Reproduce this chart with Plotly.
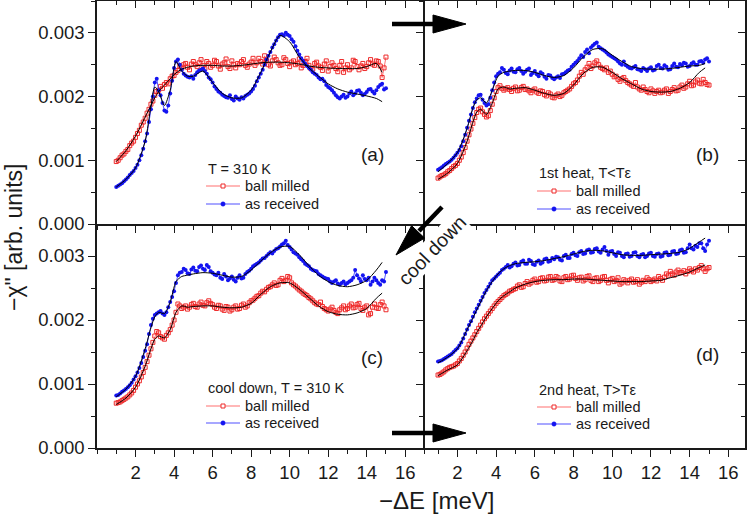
import numpy as np
import plotly.graph_objects as go

W, H = 747, 517

# measured energies (meV)
energy = [1.0, 1.1, 1.2, 1.3, 1.4, 1.5, 1.6, 1.7, 1.8, 1.9,
          2.0, 2.1, 2.2, 2.3, 2.4, 2.5, 2.6, 2.7, 2.8, 2.9,
          3.0, 3.1, 3.2, 3.3, 3.4, 3.5, 3.6, 3.7, 3.8, 3.9,
          4.0, 4.1, 4.2, 4.3, 4.4, 4.5, 4.6, 4.7, 4.8, 4.9,
          5.0, 5.1, 5.2, 5.3, 5.4, 5.5, 5.6, 5.7, 5.8, 5.9,
          6.0, 6.1, 6.2, 6.3, 6.4, 6.5, 6.6, 6.7, 6.8, 6.9,
          7.0, 7.1, 7.2, 7.3, 7.4, 7.5, 7.6, 7.7, 7.8, 7.9,
          8.0, 8.1, 8.2, 8.3, 8.4, 8.5, 8.6, 8.7, 8.8, 8.9,
          9.0, 9.1, 9.2, 9.3, 9.4, 9.5, 9.6, 9.7, 9.8, 9.9,
          10.0, 10.1, 10.2, 10.3, 10.4, 10.5, 10.6, 10.7, 10.8, 10.9,
          11.0, 11.1, 11.2, 11.3, 11.4, 11.5, 11.6, 11.7, 11.8, 11.9,
          12.0, 12.1, 12.2, 12.3, 12.4, 12.5, 12.6, 12.7, 12.8, 12.9,
          13.0, 13.1, 13.2, 13.3, 13.4, 13.5, 13.6, 13.7, 13.8, 13.9,
          14.0, 14.1, 14.2, 14.3, 14.4, 14.5, 14.6, 14.7, 14.8, 14.9, 15.0]
fit_energy = [1.0, 1.5, 2.0, 2.5, 2.8, 3.0, 3.2, 3.5, 3.8, 4.1, 4.4, 4.7, 5.0,
              5.5, 6.0, 6.5, 7.0, 7.5, 8.0, 8.5, 9.0, 9.5, 10.0, 10.5, 11.0,
              11.5, 12.0, 12.5, 13.0, 13.5, 14.0, 14.5, 14.8]

# -chi'' values in units of 1e-3
a_milled = [0.98, 1.00, 1.04, 1.08, 1.10, 1.14, 1.17, 1.23, 1.27, 1.30,
            1.36, 1.42, 1.47, 1.55, 1.60, 1.66, 1.74, 1.80, 1.88, 1.93,
            2.02, 2.08, 2.10, 2.16, 2.13, 2.19, 2.22, 2.20, 2.28, 2.32,
            2.33, 2.38, 2.41, 2.48, 2.45, 2.50, 2.52, 2.46, 2.42, 2.51,
            2.55, 2.50, 2.47, 2.53, 2.58, 2.49, 2.44, 2.55, 2.52, 2.46,
            2.49, 2.57, 2.55, 2.48, 2.43, 2.51, 2.53, 2.59, 2.47, 2.44,
            2.56, 2.50, 2.45, 2.52, 2.50, 2.55, 2.58, 2.49, 2.46, 2.51,
            2.54, 2.60, 2.49, 2.53, 2.60, 2.55, 2.51, 2.64, 2.57, 2.50,
            2.48, 2.56, 2.62, 2.58, 2.53, 2.49, 2.50, 2.61, 2.58, 2.52,
            2.47, 2.54, 2.56, 2.50, 2.52, 2.59, 2.45, 2.49, 2.55, 2.60,
            2.49, 2.44, 2.43, 2.52, 2.54, 2.48, 2.46, 2.41, 2.51, 2.56,
            2.40, 2.47, 2.53, 2.49, 2.44, 2.39, 2.49, 2.55, 2.38, 2.45,
            2.50, 2.42, 2.45, 2.57, 2.55, 2.47, 2.42, 2.48, 2.52, 2.44,
            2.47, 2.53, 2.58, 2.51, 2.49, 2.56, 2.55, 2.48, 2.30, 2.45, 2.62]
a_received = [0.58, 0.60, 0.62, 0.64, 0.67, 0.70, 0.73, 0.77, 0.80, 0.83,
              0.88, 0.93, 1.00, 1.08, 1.18, 1.30, 1.42, 1.60, 1.80, 2.00,
              2.22, 2.28, 2.10, 2.02, 1.90, 1.78, 1.76, 1.86, 2.05, 2.25,
              2.45, 2.55, 2.58, 2.50, 2.42, 2.36, 2.33, 2.31, 2.30, 2.32,
              2.28, 2.34, 2.38, 2.41, 2.42, 2.44, 2.40, 2.36, 2.30, 2.27,
              2.22, 2.16, 2.12, 2.08, 2.06, 2.03, 2.01, 1.99, 1.98, 2.02,
              1.96, 1.94, 2.00, 1.97, 1.95, 1.99, 1.97, 2.01, 2.03, 2.05,
              2.08, 2.12, 2.17, 2.24, 2.30, 2.36, 2.42, 2.50, 2.58, 2.64,
              2.70, 2.77, 2.82, 2.88, 2.93, 2.97, 2.98, 2.96, 3.00, 2.97,
              2.95, 2.90, 2.86, 2.79, 2.72, 2.66, 2.60, 2.56, 2.52, 2.48,
              2.45, 2.42, 2.38, 2.36, 2.34, 2.30, 2.27, 2.28, 2.24, 2.18,
              2.15, 2.13, 2.10, 2.06, 2.02, 1.99, 1.97, 2.00, 2.03, 1.98,
              2.00, 2.05, 2.08, 2.02, 2.05, 2.09, 2.10, 2.06, 2.02, 2.04,
              2.07, 2.11, 2.12, 2.08, 2.05, 2.10, 2.15, 2.18, 2.20, 2.11, 2.13]
a_fit_milled = [0.98, 1.15, 1.38, 1.68, 1.86, 1.98, 2.08, 2.18, 2.28, 2.37, 2.43,
                2.46, 2.48, 2.49, 2.49, 2.48, 2.48, 2.49, 2.51, 2.53, 2.54, 2.54,
                2.53, 2.51, 2.48, 2.46, 2.45, 2.44, 2.44, 2.44, 2.47, 2.52, 2.38]
a_fit_received = [0.58, 0.70, 0.88, 1.30, 1.85, 2.15, 2.08, 1.86, 2.10, 2.55, 2.40,
                  2.32, 2.32, 2.40, 2.22, 2.05, 1.98, 1.98, 2.10, 2.38, 2.70, 2.96,
                  2.86, 2.62, 2.45, 2.32, 2.20, 2.12, 2.07, 2.04, 2.01, 1.97, 1.92]

b_milled = [0.72, 0.74, 0.76, 0.77, 0.79, 0.82, 0.84, 0.87, 0.90, 0.92,
            0.95, 1.00, 1.05, 1.12, 1.20, 1.30, 1.40, 1.49, 1.58, 1.67,
            1.75, 1.80, 1.82, 1.76, 1.72, 1.68, 1.70, 1.78, 1.88, 1.98,
            2.08, 2.14, 2.17, 2.13, 2.10, 2.12, 2.14, 2.11, 2.08, 2.13,
            2.15, 2.09, 2.10, 2.14, 2.16, 2.11, 2.12, 2.09, 2.06, 2.10,
            2.12, 2.07, 2.05, 2.09, 2.08, 2.03, 2.01, 2.06, 2.04, 1.99,
            1.98, 2.02, 2.04, 2.00, 2.02, 2.06, 2.08, 2.10, 2.12, 2.16,
            2.20, 2.22, 2.26, 2.32, 2.38, 2.35, 2.42, 2.46, 2.52, 2.44,
            2.48, 2.53, 2.56, 2.50, 2.46, 2.44, 2.42, 2.45, 2.38, 2.40,
            2.35, 2.31, 2.32, 2.27, 2.24, 2.28, 2.30, 2.25, 2.22, 2.20,
            2.18, 2.16, 2.22, 2.15, 2.12, 2.10, 2.15, 2.11, 2.08, 2.06,
            2.12, 2.09, 2.05, 2.08, 2.10, 2.06, 2.07, 2.10, 2.12, 2.05,
            2.08, 2.11, 2.14, 2.09, 2.10, 2.15, 2.18, 2.13, 2.15, 2.20,
            2.24, 2.17, 2.18, 2.23, 2.26, 2.21, 2.20, 2.27, 2.22, 2.19, 2.18]
b_received = [0.85, 0.87, 0.89, 0.92, 0.94, 0.96, 0.98, 1.01, 1.04, 1.08,
              1.12, 1.16, 1.22, 1.30, 1.40, 1.51, 1.62, 1.72, 1.82, 1.91,
              1.97, 2.02, 2.03, 1.95, 1.90, 1.86, 1.88, 1.98, 2.10, 2.22,
              2.32, 2.36, 2.38, 2.45, 2.42, 2.37, 2.35, 2.41, 2.44, 2.39,
              2.38, 2.43, 2.45, 2.40, 2.36, 2.39, 2.42, 2.44, 2.34, 2.37,
              2.40, 2.35, 2.32, 2.38, 2.36, 2.31, 2.28, 2.34, 2.33, 2.29,
              2.27, 2.30, 2.32, 2.29, 2.35, 2.36, 2.38, 2.41, 2.42, 2.47,
              2.50, 2.53, 2.56, 2.60, 2.65, 2.62, 2.70, 2.74, 2.68, 2.77,
              2.80, 2.83, 2.85, 2.78, 2.76, 2.74, 2.72, 2.69, 2.66, 2.64,
              2.62, 2.60, 2.58, 2.55, 2.52, 2.50, 2.55, 2.49, 2.47, 2.45,
              2.44, 2.46, 2.48, 2.43, 2.42, 2.40, 2.45, 2.43, 2.40, 2.44,
              2.46, 2.41, 2.42, 2.48, 2.50, 2.45, 2.44, 2.49, 2.47, 2.42,
              2.43, 2.48, 2.52, 2.47, 2.46, 2.51, 2.49, 2.53, 2.52, 2.47,
              2.48, 2.52, 2.54, 2.50, 2.50, 2.55, 2.56, 2.53, 2.58, 2.60, 2.55]
b_fit_milled = [0.70, 0.80, 0.95, 1.30, 1.60, 1.76, 1.80, 1.72, 1.90, 2.12, 2.15,
                2.12, 2.13, 2.14, 2.10, 2.05, 2.02, 2.05, 2.18, 2.36, 2.46, 2.46,
                2.38, 2.28, 2.20, 2.12, 2.08, 2.07, 2.08, 2.13, 2.22, 2.38, 2.45]
b_fit_received = [0.82, 0.95, 1.12, 1.50, 1.82, 1.95, 1.98, 1.90, 2.10, 2.32, 2.38,
                  2.40, 2.41, 2.41, 2.38, 2.33, 2.30, 2.33, 2.45, 2.62, 2.74, 2.75,
                  2.65, 2.55, 2.47, 2.44, 2.43, 2.43, 2.44, 2.46, 2.48, 2.49, 2.52]

c_milled = [0.70, 0.71, 0.72, 0.74, 0.76, 0.78, 0.80, 0.83, 0.86, 0.90,
            0.95, 1.00, 1.05, 1.11, 1.18, 1.26, 1.35, 1.45, 1.55, 1.65,
            1.75, 1.82, 1.80, 1.74, 1.72, 1.70, 1.76, 1.80, 1.85, 1.92,
            2.00, 2.12, 2.25, 2.22, 2.18, 2.20, 2.22, 2.17, 2.20, 2.24,
            2.26, 2.21, 2.20, 2.25, 2.28, 2.23, 2.22, 2.27, 2.30, 2.26,
            2.24, 2.20, 2.18, 2.23, 2.22, 2.17, 2.15, 2.21, 2.20, 2.14,
            2.16, 2.20, 2.22, 2.17, 2.18, 2.23, 2.25, 2.20, 2.22, 2.27,
            2.30, 2.31, 2.34, 2.37, 2.38, 2.42, 2.45, 2.44, 2.48, 2.51,
            2.52, 2.55, 2.58, 2.54, 2.55, 2.62, 2.65, 2.60, 2.62, 2.68,
            2.66, 2.58, 2.55, 2.53, 2.50, 2.47, 2.45, 2.42, 2.40, 2.38,
            2.35, 2.33, 2.30, 2.27, 2.25, 2.24, 2.28, 2.21, 2.18, 2.16,
            2.14, 2.17, 2.20, 2.15, 2.12, 2.10, 2.16, 2.19, 2.22, 2.16,
            2.18, 2.22, 2.25, 2.19, 2.20, 2.24, 2.26, 2.18, 2.15, 2.20,
            2.22, 2.08, 2.10, 2.20, 2.25, 2.19, 2.18, 2.24, 2.28, 2.22, 2.16]
c_received = [0.82, 0.83, 0.85, 0.88, 0.90, 0.92, 0.95, 0.98, 1.02, 1.07,
              1.12, 1.18, 1.25, 1.33, 1.42, 1.52, 1.62, 1.78, 1.92, 2.02,
              2.08, 2.10, 2.12, 2.14, 2.10, 2.08, 2.12, 2.20, 2.28, 2.36,
              2.45, 2.58, 2.70, 2.74, 2.75, 2.80, 2.78, 2.73, 2.72, 2.79,
              2.82, 2.77, 2.76, 2.83, 2.85, 2.80, 2.78, 2.86, 2.83, 2.76,
              2.74, 2.71, 2.70, 2.74, 2.66, 2.64, 2.72, 2.68, 2.62, 2.65,
              2.68, 2.63, 2.60, 2.66, 2.70, 2.65, 2.66, 2.72, 2.75, 2.77,
              2.80, 2.84, 2.86, 2.88, 2.90, 2.93, 2.96, 2.97, 3.00, 3.03,
              3.06, 3.04, 3.08, 3.11, 3.12, 3.15, 3.18, 3.20, 3.24, 3.17,
              3.14, 3.10, 3.06, 3.04, 3.02, 2.98, 2.95, 2.92, 2.88, 2.86,
              2.84, 2.80, 2.78, 2.77, 2.76, 2.72, 2.70, 2.68, 2.66, 2.65,
              2.64, 2.60, 2.58, 2.60, 2.62, 2.57, 2.55, 2.58, 2.60, 2.56,
              2.58, 2.60, 2.62, 2.66, 2.78, 2.70, 2.65, 2.60, 2.70, 2.64,
              2.62, 2.66, 2.55, 2.60, 2.66, 2.62, 2.58, 2.55, 2.62, 2.60, 2.75]
c_fit_milled = [0.68, 0.78, 0.95, 1.28, 1.55, 1.70, 1.75, 1.72, 1.85, 2.12, 2.22,
                2.20, 2.21, 2.22, 2.22, 2.20, 2.19, 2.20, 2.26, 2.40, 2.52, 2.58,
                2.58, 2.48, 2.35, 2.22, 2.13, 2.09, 2.08, 2.11, 2.18, 2.34, 2.42]
c_fit_received = [0.80, 0.92, 1.12, 1.55, 1.88, 2.05, 2.12, 2.10, 2.28, 2.60, 2.68,
                  2.70, 2.72, 2.74, 2.73, 2.70, 2.67, 2.68, 2.78, 2.92, 3.05, 3.14,
                  3.15, 3.02, 2.85, 2.70, 2.60, 2.54, 2.52, 2.55, 2.62, 2.78, 2.90]

d_milled = [1.14, 1.15, 1.17, 1.19, 1.22, 1.24, 1.26, 1.27, 1.28, 1.30,
            1.32, 1.36, 1.40, 1.45, 1.50, 1.56, 1.62, 1.67, 1.72, 1.77,
            1.82, 1.87, 1.92, 1.97, 2.02, 2.06, 2.10, 2.14, 2.18, 2.22,
            2.26, 2.29, 2.32, 2.35, 2.38, 2.40, 2.42, 2.45, 2.46, 2.48,
            2.49, 2.53, 2.55, 2.51, 2.52, 2.57, 2.60, 2.56, 2.58, 2.62,
            2.64, 2.59, 2.60, 2.65, 2.66, 2.61, 2.62, 2.67, 2.68, 2.62,
            2.63, 2.68, 2.66, 2.61, 2.60, 2.66, 2.68, 2.63, 2.64, 2.69,
            2.70, 2.65, 2.62, 2.66, 2.67, 2.61, 2.63, 2.68, 2.69, 2.62,
            2.60, 2.65, 2.66, 2.60, 2.62, 2.67, 2.68, 2.62, 2.58, 2.63,
            2.65, 2.60, 2.62, 2.66, 2.56, 2.58, 2.63, 2.61, 2.58, 2.62,
            2.64, 2.59, 2.60, 2.63, 2.56, 2.59, 2.62, 2.60, 2.66, 2.63,
            2.60, 2.62, 2.64, 2.61, 2.68, 2.65, 2.62, 2.67, 2.72, 2.70,
            2.76, 2.72, 2.70, 2.75, 2.78, 2.74, 2.74, 2.77, 2.72, 2.76,
            2.80, 2.77, 2.75, 2.80, 2.78, 2.82, 2.85, 2.80, 2.76, 2.80, 2.82]
d_received = [1.35, 1.36, 1.37, 1.39, 1.41, 1.43, 1.45, 1.47, 1.50, 1.53,
              1.56, 1.60, 1.65, 1.71, 1.78, 1.85, 1.92, 1.98, 2.05, 2.12,
              2.18, 2.24, 2.30, 2.36, 2.42, 2.47, 2.52, 2.57, 2.62, 2.65,
              2.68, 2.71, 2.74, 2.78, 2.80, 2.83, 2.86, 2.82, 2.84, 2.88,
              2.90, 2.85, 2.86, 2.91, 2.93, 2.88, 2.88, 2.94, 2.92, 2.87,
              2.86, 2.91, 2.93, 2.88, 2.90, 2.95, 2.96, 2.91, 2.92, 2.97,
              2.95, 2.99, 2.98, 2.94, 2.93, 3.00, 3.02, 2.97, 2.97, 3.03,
              3.05, 3.01, 3.00, 3.06, 3.08, 3.03, 3.04, 3.09, 3.10, 3.05,
              3.06, 3.11, 3.12, 3.07, 3.05, 3.10, 3.14, 3.08, 3.02, 3.07,
              3.08, 3.03, 3.00, 3.06, 3.05, 3.00, 2.98, 3.03, 3.04, 2.99,
              3.00, 3.05, 3.06, 3.00, 2.98, 3.02, 3.03, 2.98, 3.00, 3.04,
              3.05, 3.00, 2.99, 3.03, 3.04, 2.99, 3.00, 3.05, 3.06, 3.01,
              3.02, 3.07, 3.08, 3.03, 3.04, 3.09, 3.10, 3.05, 3.06, 3.12,
              3.18, 3.12, 3.10, 3.16, 3.14, 3.20, 3.20, 3.12, 3.08, 3.18, 3.24]
d_fit_milled = [1.13, 1.22, 1.30, 1.52, 1.68, 1.80, 1.90, 2.05, 2.18, 2.30, 2.38,
                2.44, 2.50, 2.56, 2.60, 2.62, 2.63, 2.63, 2.64, 2.64, 2.63, 2.62,
                2.61, 2.60, 2.60, 2.60, 2.61, 2.62, 2.66, 2.70, 2.75, 2.82, 2.86]
d_fit_received = [1.33, 1.42, 1.55, 1.85, 2.03, 2.16, 2.28, 2.46, 2.60, 2.72, 2.80,
                  2.85, 2.88, 2.90, 2.91, 2.93, 2.96, 2.99, 3.03, 3.07, 3.09, 3.08,
                  3.05, 3.02, 3.01, 3.01, 3.02, 3.03, 3.04, 3.06, 3.12, 3.22, 3.28]

panel_titles = ["T = 310 K", "1st heat, T&lt;Tε", "cool down, T = 310 K", "2nd heat, T&gt;Tε"]
panel_tags = ["(a)", "(b)", "(c)", "(d)"]
series_names = ["ball milled", "as received"]
x_ticks = [2, 4, 6, 8, 10, 12, 14, 16]
y_ticks = [0.0, 0.001, 0.002, 0.003]

FONT = "Arial, Liberation Sans, sans-serif"
INK = "#1a1a1a"
RED_LINE = "rgba(255,95,95,0.9)"
RED_MARK = "#ee2a2a"
BLUE_LINE = "rgba(60,60,255,0.9)"
BLUE_MARK = "#1414f0"


def paper(px, py):
    return px / W, 1 - py / H


left_col = [97 / W, 424.5 / W]
right_col = [424.5 / W, 745 / W]
top_row = [1 - 224 / H, 1 - 1 / H]
bot_row = [1 - 448 / H, 1 - 224 / H]

# shared edges are drawn once: mirror flags decide which panel owns them
panels = [
    dict(milled=a_milled, received=a_received, fm=a_fit_milled, fr=a_fit_received,
         xd=left_col, yd=top_row, xr=[0, 17], xlab=False, ylab=True, xm=True, ym=False,
         leg=(206, 169, 186, 204), tag=(372, 155)),
    dict(milled=b_milled, received=b_received, fm=b_fit_milled, fr=b_fit_received,
         xd=right_col, yd=top_row, xr=[0.3, 16.86], xlab=False, ylab=False, xm=True, ym=True,
         leg=(537, 173, 191, 209), tag=(707, 155)),
    dict(milled=c_milled, received=c_received, fm=c_fit_milled, fr=c_fit_received,
         xd=left_col, yd=bot_row, xr=[0, 17], xlab=True, ylab=True, xm=False, ym=False,
         leg=(206, 388, 406, 423), tag=(372, 357)),
    dict(milled=d_milled, received=d_received, fm=d_fit_milled, fr=d_fit_received,
         xd=right_col, yd=bot_row, xr=[0.3, 16.86], xlab=True, ylab=False, xm=False, ym=True,
         leg=(537, 390, 407, 424), tag=(707, 354)),
]

fig = go.Figure()
layout = {}
annotations = []
shapes = []


def label(px, py, text, size, **kw):
    x, y = paper(px, py)
    opts = dict(x=x, y=y, xref="paper", yref="paper", text=text, showarrow=False,
                xanchor="center", yanchor="middle", font=dict(size=size, color=INK))
    opts.update(kw)
    annotations.append(opts)


for i, p in enumerate(panels):
    n = i + 1
    sfx = "" if n == 1 else str(n)
    xa, ya = "x" + sfx, "y" + sfx

    fig.add_trace(go.Scatter(
        x=energy, y=np.array(p["milled"]) * 1e-3, mode="lines+markers",
        name=series_names[0], showlegend=False, xaxis=xa, yaxis=ya,
        line=dict(color=RED_LINE, width=1),
        marker=dict(symbol="square-open", size=4, color=RED_MARK, line=dict(width=1))))
    fig.add_trace(go.Scatter(
        x=energy, y=np.array(p["received"]) * 1e-3, mode="lines+markers",
        name=series_names[1], showlegend=False, xaxis=xa, yaxis=ya,
        line=dict(color=BLUE_LINE, width=1),
        marker=dict(symbol="circle", size=4, color=BLUE_MARK)))
    for fit in (p["fm"], p["fr"]):
        fig.add_trace(go.Scatter(
            x=fit_energy, y=np.array(fit) * 1e-3, mode="lines", showlegend=False,
            xaxis=xa, yaxis=ya, hoverinfo="skip",
            line=dict(color="black", width=1, shape="spline", smoothing=0.7)))

    layout["xaxis" + sfx] = dict(
        domain=p["xd"], anchor=ya, range=p["xr"], showline=True, mirror=p["xm"],
        linecolor=INK, linewidth=1.5, ticks="outside", ticklen=7, tickwidth=1.3,
        tickcolor=INK, tickmode="array", tickvals=x_ticks, showticklabels=p["xlab"],
        minor=dict(tickmode="linear", tick0=0, dtick=1, ticks="outside", ticklen=4,
                   tickwidth=1.3, tickcolor=INK, showgrid=False),
        showgrid=False, zeroline=False, automargin=False,
        tickfont=dict(size=18.5, color=INK))
    layout["yaxis" + sfx] = dict(
        domain=p["yd"], anchor=xa, range=[0, 0.0035], showline=True, mirror=p["ym"],
        linecolor=INK, linewidth=1.5, ticks="outside", ticklen=7, tickwidth=1.3,
        tickcolor=INK, tickmode="array", tickvals=y_ticks, tickformat=".3f",
        showticklabels=p["ylab"],
        minor=dict(tickmode="linear", tick0=0, dtick=0.0005, ticks="outside", ticklen=4,
                   tickwidth=1.3, tickcolor=INK, showgrid=False),
        showgrid=False, zeroline=False, automargin=False,
        tickfont=dict(size=18.5, color=INK))

    # legend block drawn by hand so the line spacing matches
    left, y_title, y_mill, y_recv = p["leg"]
    label(left, y_title, panel_titles[i], 14.5, xanchor="left")
    for yy, name, lc in ((y_mill, series_names[0], RED_LINE), (y_recv, series_names[1], BLUE_LINE)):
        x0, y0 = paper(left, yy)
        x1, _ = paper(left + 34, yy)
        shapes.append(dict(type="line", xref="paper", yref="paper", x0=x0, y0=y0, x1=x1, y1=y0,
                           line=dict(color=lc, width=1)))
        label(left + 37, yy, name, 14.5, xanchor="left")
    mx = left + 17
    sx0, sy0 = paper(mx - 2, y_mill - 2)
    sx1, sy1 = paper(mx + 2, y_mill + 2)
    shapes.append(dict(type="rect", xref="paper", yref="paper", x0=sx0, y0=sy0, x1=sx1, y1=sy1,
                       fillcolor="white", line=dict(color=RED_MARK, width=1)))
    cx0, cy0 = paper(mx - 2.2, y_recv - 2.2)
    cx1, cy1 = paper(mx + 2.2, y_recv + 2.2)
    shapes.append(dict(type="circle", xref="paper", yref="paper", x0=cx0, y0=cy0, x1=cx1, y1=cy1,
                       fillcolor=BLUE_MARK, line=dict(color=BLUE_MARK, width=0.5)))

    label(p["tag"][0], p["tag"][1], panel_tags[i], 19)

# mirrored inward ticks on the outer top and right edges
top_tick = dict(side="top", ticks="inside", ticklen=7, tickwidth=1.3, tickcolor=INK,
                tickmode="array", tickvals=x_ticks, showticklabels=False, showline=False,
                showgrid=False, zeroline=False, automargin=False,
                minor=dict(tickmode="linear", tick0=0, dtick=1, ticks="inside", ticklen=4,
                           tickwidth=1.3, tickcolor=INK, showgrid=False))
right_tick = dict(side="right", ticks="inside", ticklen=7, tickwidth=1.3, tickcolor=INK,
                  tickmode="array", tickvals=y_ticks, showticklabels=False, showline=False,
                  showgrid=False, zeroline=False, automargin=False, range=[0, 0.0035],
                  minor=dict(tickmode="linear", tick0=0, dtick=0.0005, ticks="inside", ticklen=4,
                             tickwidth=1.3, tickcolor=INK, showgrid=False))
layout["xaxis5"] = dict(top_tick, overlaying="x", anchor="y", range=[0, 17])
layout["xaxis6"] = dict(top_tick, overlaying="x2", anchor="y2", range=[0.3, 16.86])
layout["yaxis5"] = dict(right_tick, overlaying="y2", anchor="x2")
layout["yaxis6"] = dict(right_tick, overlaying="y4", anchor="x4")
for xa, ya in (("x5", "y"), ("x6", "y2"), ("x2", "y5"), ("x4", "y6")):
    fig.add_trace(go.Scatter(x=[None], y=[None], xaxis=xa, yaxis=ya,
                             showlegend=False, hoverinfo="skip"))

# axis titles
label(436, 500, "−ΔE [meV]", 24)
label(14, 238, "−χ\" [arb. units]", 23, textangle=-90)

# "cool down" label
label(432, 250, "cool down", 19.5, textangle=-46, bgcolor="white", borderpad=0)


def arrow(tail, base, tip, left, right):
    x0, y0 = paper(*tail)
    x1, y1 = paper(*base)
    shapes.append(dict(type="line", xref="paper", yref="paper", x0=x0, y0=y0, x1=x1, y1=y1,
                       line=dict(color="black", width=4.5), layer="above"))
    pts = [paper(*left), paper(*tip), paper(*right)]
    path = "M %f,%f L %f,%f L %f,%f Z" % (pts[0] + pts[1] + pts[2])
    shapes.append(dict(type="path", xref="paper", yref="paper", path=path,
                       fillcolor="black", line=dict(color="black", width=1), layer="above"))


arrow((392, 24), (436, 24), (466, 24), (433, 15), (433, 33))
arrow((392, 433), (436, 433), (466, 433), (433, 424), (433, 442))
arrow((442, 207), (419, 231), (396, 255), (411.6, 225.7), (424.6, 238.1))

layout.update(
    width=W, height=H, margin=dict(l=0, r=0, t=0, b=0, autoexpand=False),
    paper_bgcolor="white", plot_bgcolor="white",
    font=dict(family=FONT, color=INK), showlegend=False,
    annotations=annotations, shapes=shapes,
)
fig.update_layout(**layout)
# the page body has a default 8px margin; drop it so the figure fills the window
fig.write_html("out.html", config={"displayModeBar": False},
               post_script="document.body.style.margin='0';")
